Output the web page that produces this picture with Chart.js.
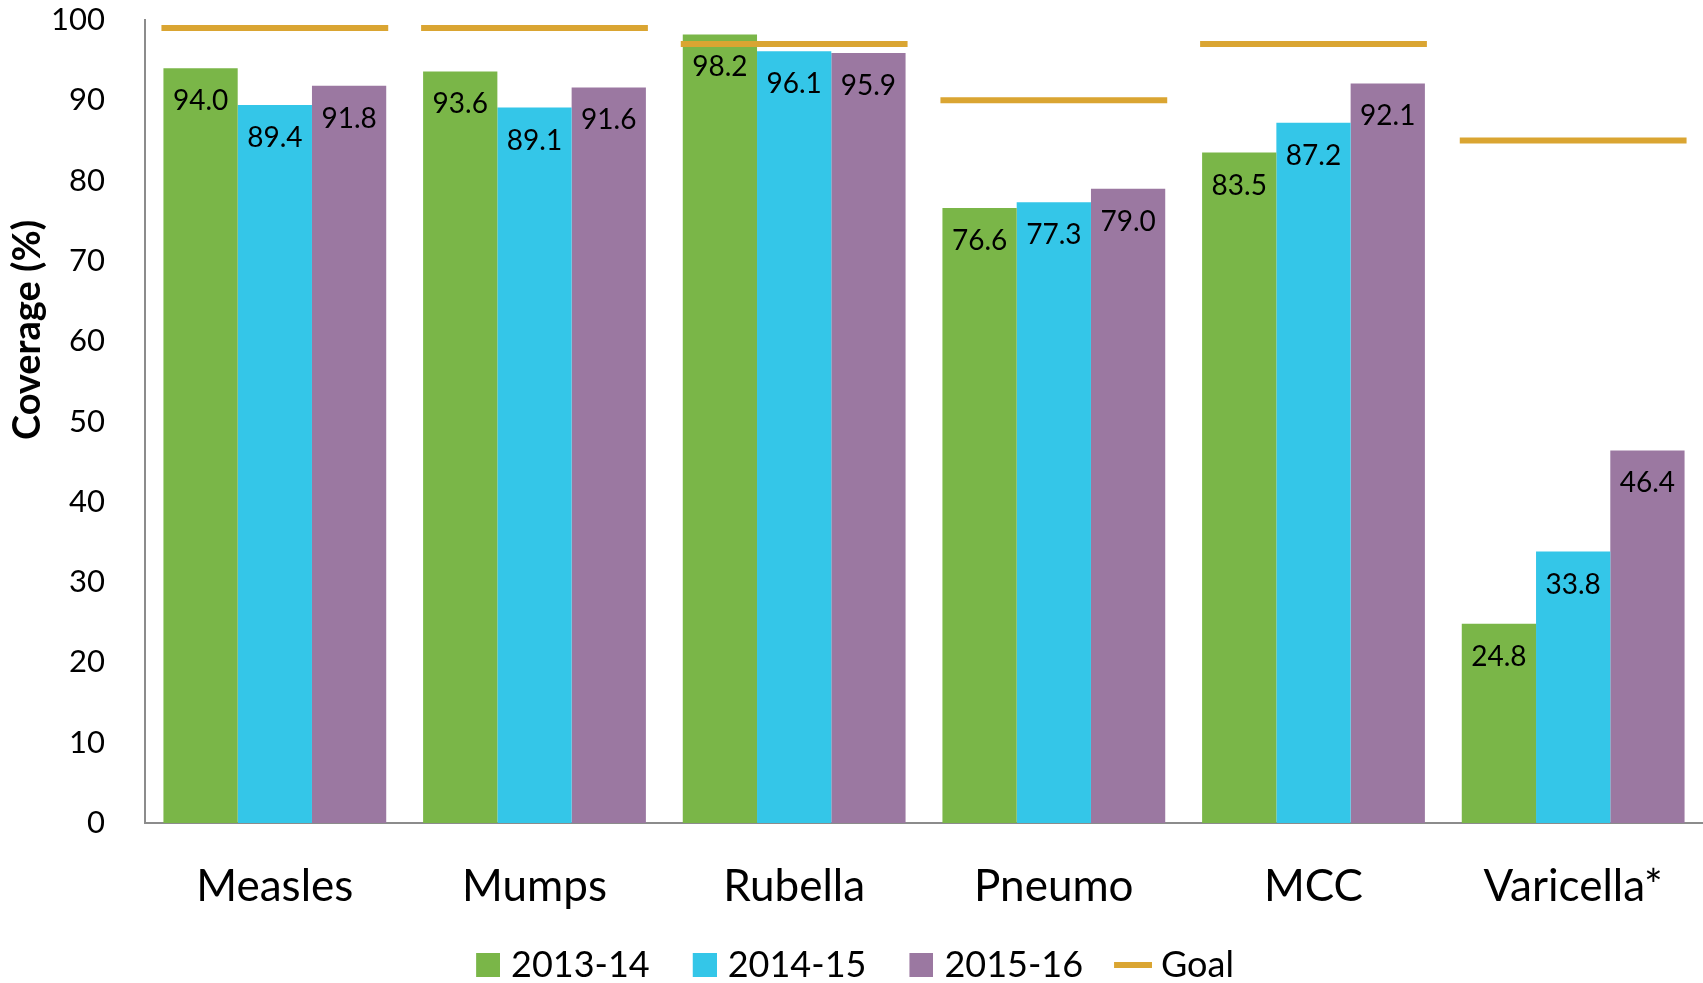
<!DOCTYPE html>
<html>
<head>
<meta charset="utf-8">
<script src="https://cdn.jsdelivr.net/npm/chart.js@4.4.0/dist/chart.umd.min.js"></script>
<style>
  html, body { margin: 0; padding: 0; background: #fff; }
</style>
</head>
<body>
<canvas id="chart" width="1703" height="983"></canvas>
<script>
const categories = ["Measles", "Mumps", "Rubella", "Pneumo", "MCC", "Varicella*"];
const seriesNames = ["2013-14", "2014-15", "2015-16"];
const cov1314 = [94.0, 93.6, 98.2, 76.6, 83.5, 24.8];
const cov1415 = [89.4, 89.1, 96.1, 77.3, 87.2, 33.8];
const cov1516 = [91.8, 91.6, 95.9, 79.0, 92.1, 46.4];
const goal = [99, 99, 97, 90, 97, 85];
const yMin = 0, yMax = 100, yStep = 10;

const colors = ["#7ab648", "#34c6e8", "#9b78a1"];
const goalColor = "#daa532";
const FONT = "Lato";
const GROUP = 0.858;   // share of each category the bar group takes
const LEGEND_FONT = 36;
const LEGEND_BOX = 24;

// legend marks as small canvases: centred at x + 12, text starts at x + 42
function rectMark(color) {
  const c = document.createElement("canvas");
  c.width = 38; c.height = 24;
  const g = c.getContext("2d");
  g.fillStyle = color;
  g.fillRect(14, 0, 24, 24);
  return c;
}
function lineMark(color) {
  const c = document.createElement("canvas");
  c.width = 42; c.height = 6;
  const g = c.getContext("2d");
  g.fillStyle = color;
  g.fillRect(4, 0, 38, 6);
  return c;
}
const legendMarks = [rectMark(colors[0]), rectMark(colors[1]), rectMark(colors[2]), lineMark(goalColor)];

function goalRadius(ctx) {
  const area = ctx.chart.chartArea;
  if (!area) return 0;
  return area.width / categories.length * GROUP / 2 + 2;
}

// value labels inside the top of each bar
const valueLabels = {
  id: "valueLabels",
  afterDatasetsDraw(chart) {
    const ctx = chart.ctx;
    ctx.save();
    ctx.font = `28px ${FONT}`;
    ctx.fillStyle = "#000";
    ctx.textAlign = "center";
    ctx.textBaseline = "middle";
    [0, 1, 2].forEach(di => {
      const values = chart.data.datasets[di].data;
      chart.getDatasetMeta(di).data.forEach((bar, i) => {
        ctx.fillText(values[i].toFixed(1), bar.x, bar.y + 33);
      });
    });
    ctx.restore();
  }
};

// y title sits above the middle of the axis in the original
const yTitle = {
  id: "yTitle",
  afterDraw(chart) {
    const ctx = chart.ctx;
    ctx.save();
    ctx.translate(40, 330);
    ctx.rotate(-Math.PI / 2);
    ctx.font = `bold 38px ${FONT}`;
    ctx.fillStyle = "#000";
    ctx.textAlign = "center";
    ctx.textBaseline = "alphabetic";
    ctx.fillText("Coverage (%)", 0, 0);
    ctx.restore();
  }
};

new Chart(document.getElementById("chart"), {
  type: "bar",
  data: {
    labels: categories,
    datasets: [
      { label: seriesNames[0], data: cov1314, backgroundColor: colors[0], order: 1 },
      { label: seriesNames[1], data: cov1415, backgroundColor: colors[1], order: 1 },
      { label: seriesNames[2], data: cov1516, backgroundColor: colors[2], order: 1 },
      {
        type: "line",
        label: "Goal",
        data: goal,
        showLine: false,
        pointStyle: "line",
        pointRadius: goalRadius,
        pointHoverRadius: goalRadius,
        pointBorderWidth: 6,
        pointHoverBorderWidth: 6,
        pointBorderColor: goalColor,
        pointBackgroundColor: goalColor,
        borderColor: goalColor,
        clip: false,
        order: 0
      }
    ]
  },
  options: {
    responsive: false,
    animation: false,
    devicePixelRatio: 1,
    categoryPercentage: GROUP,
    barPercentage: 1,
    layout: { padding: { top: 20, left: 0, right: 0, bottom: -10 } },
    scales: {
      x: {
        grid: { display: false, drawTicks: false },
        border: { display: true, color: "#8c8c8c", width: 2 },
        ticks: { color: "#000", font: { family: FONT, size: 44 }, padding: 37 },
        afterFit(scale) {
          scale.height = 88;
          scale.paddingLeft = 0;
          scale.paddingRight = 0;
        }
      },
      y: {
        min: yMin,
        max: yMax,
        grid: { display: false, drawTicks: false },
        border: { display: true, color: "#8c8c8c", width: 2 },
        ticks: { stepSize: yStep, color: "#000", font: { family: FONT, size: 31 }, padding: 40 },
        afterFit(scale) {
          scale.width = 145;
          scale.paddingTop = 0;
          scale.paddingBottom = 0;
        }
      }
    },
    plugins: {
      tooltip: { enabled: false },
      legend: {
        position: "bottom",
        labels: {
          color: "#000",
          font: { family: FONT, size: LEGEND_FONT },
          usePointStyle: true,
          pointStyleWidth: LEGEND_BOX,
          padding: 36,
          generateLabels(chart) {
            const items = Chart.defaults.plugins.legend.labels.generateLabels(chart);
            items.forEach(it => {
              it.pointStyle = legendMarks[it.datasetIndex];
              it.lineWidth = 0;
            });
            return items.sort((a, b) => a.datasetIndex - b.datasetIndex);
          }
        }
      }
    }
  },
  plugins: [valueLabels, yTitle]
});
</script>
</body>
</html>
